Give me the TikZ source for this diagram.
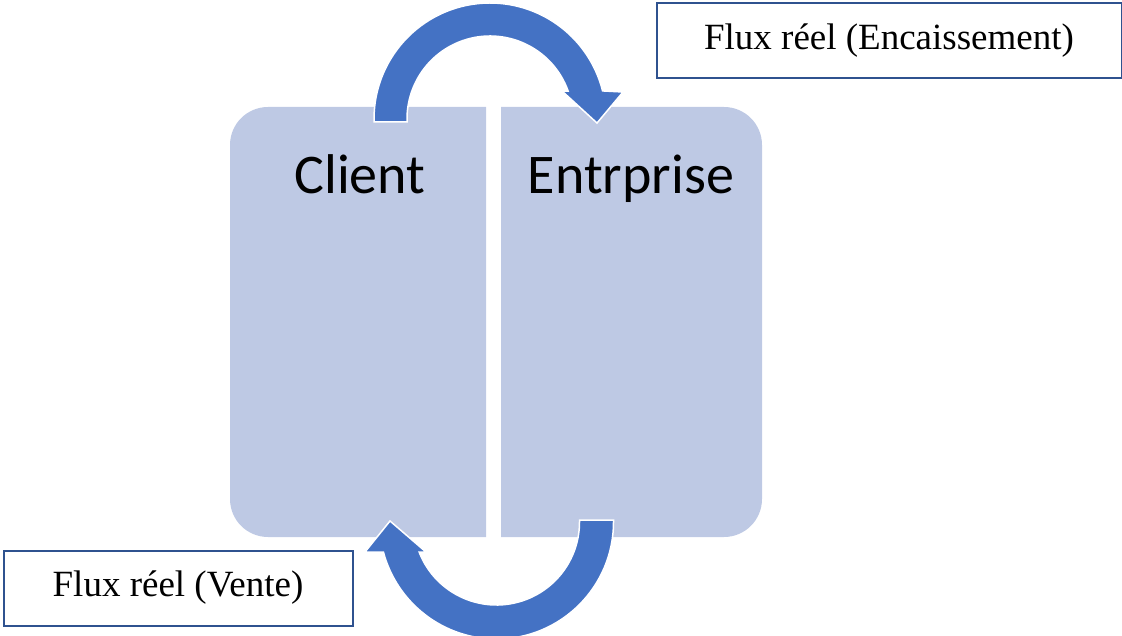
\documentclass[tikz,border=0pt]{standalone}
\usepackage{fontspec}
\setmainfont{Liberation Serif}
\newfontfamily\boxfont{Carlito}
\usetikzlibrary{calc}
\definecolor{panelfill}{RGB}{190,201,228}
\definecolor{arrowblue}{RGB}{68,114,196}
\definecolor{labelline}{RGB}{47,82,143}
\tikzset{
  panel/.style={fill=panelfill},
  bigarrow/.style={fill=arrowblue, draw=white, line width=1.5pt, line join=miter},
  paneltext/.style={inner sep=0pt, anchor=base, font=\boxfont\fontsize{56}{64}\selectfont},
  flowlabel/.style={draw=labelline, line width=2pt, fill=white, inner sep=0pt,
    minimum height=75pt, font=\fontsize{37}{44}\selectfont}
}
\begin{document}
\begin{tikzpicture}[x=1pt,y=-1pt]
\useasboundingbox (0,0) rectangle (1122,636);

% two panels of one rounded block, split by a white gap
\fill[panel] (486,107) -- (268,107) arc[start angle=-90,end angle=-180,radius=38]
  -- (230,499) arc[start angle=180,end angle=90,radius=38] -- (486,537) -- cycle;
\fill[panel] (501,107) -- (724,107) arc[start angle=-90,end angle=0,radius=38]
  -- (762,499) arc[start angle=0,end angle=90,radius=38] -- (501,537) -- cycle;

\node[paneltext] (client) at (360,194) {Client};
\node[paneltext] (entreprise) at (631,194) {Entrprise};

% curved arrow over the top: Client -> Entrprise
\coordinate (ctop) at (490,119);
\filldraw[bigarrow] ($(ctop)+(-83,3)$) -- ($(ctop)+(-116,3)$) -- ($(ctop)+(180:116)$)
  arc[start angle=180,end angle=346,radius=116]
  -- ($(ctop)+(133,-27)$) -- ($(ctop)+(107,4)$) -- ($(ctop)+(72,-28)$)
  -- ($(ctop)+(340.3:83)$) arc[start angle=340.3,end angle=180,radius=83] -- cycle;

% curved arrow under the bottom: Entrprise -> Client
\coordinate (cbot) at (496.5,522);
\filldraw[bigarrow] ($(cbot)+(117,-2)$) -- ($(cbot)+(0:117)$)
  arc[start angle=0,end angle=165.14,radius=117]
  -- ($(cbot)+(-131.5,30)$) -- ($(cbot)+(-106.5,-1)$) -- ($(cbot)+(-70.5,30)$)
  -- ($(cbot)+(158.81:83)$) arc[start angle=158.81,end angle=0,radius=83]
  -- ($(cbot)+(83,-2)$) -- cycle;

% flow labels
\node[flowlabel, minimum width=465pt] (encaissement) at (889,41) {Flux réel (Encaissement)};
\node[flowlabel, minimum width=349pt] (vente) at (178,588) {Flux réel (Vente)};
\end{tikzpicture}
\end{document}
